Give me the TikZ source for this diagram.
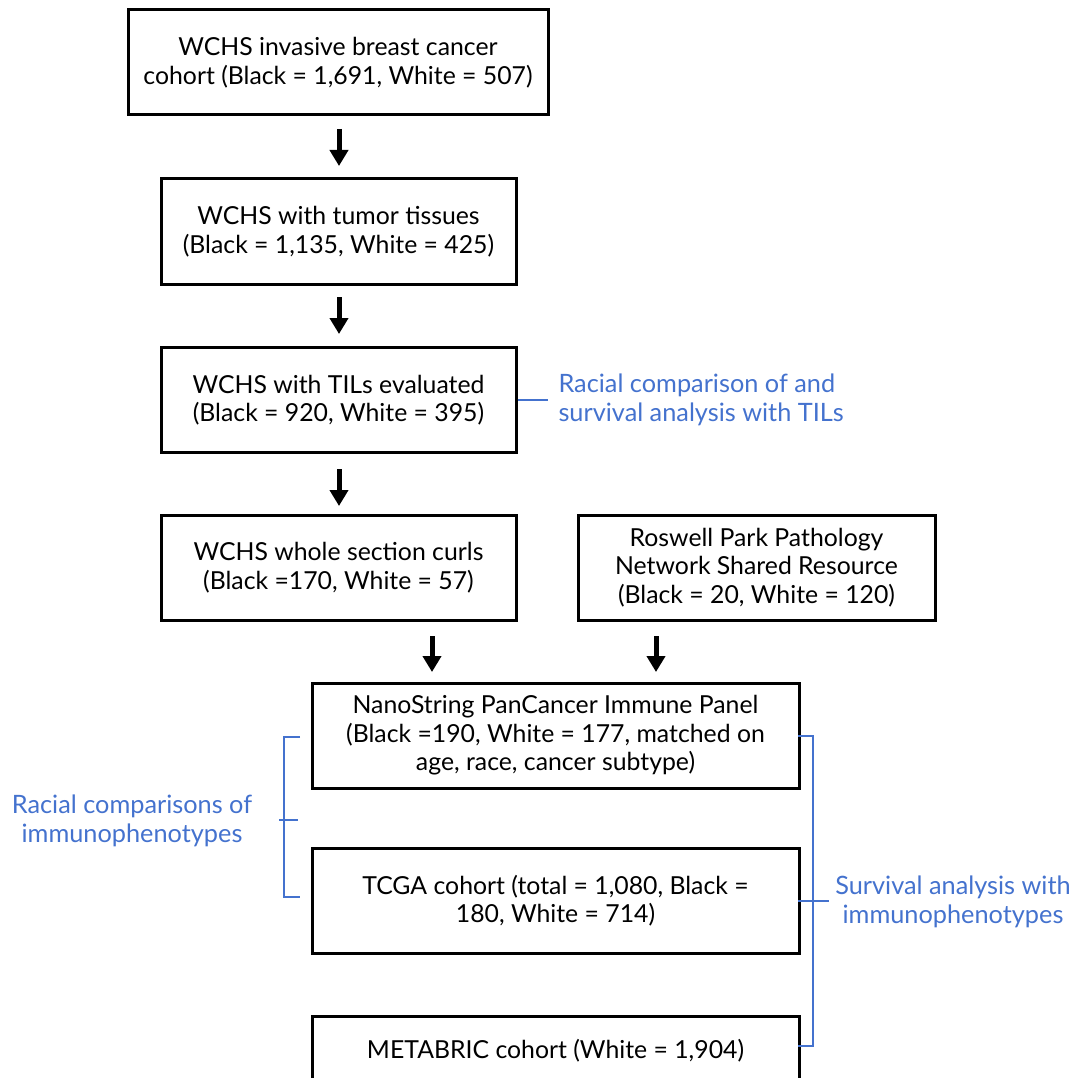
\documentclass[tikz,border=0pt]{standalone}
\usepackage{fontspec}
\setmainfont{Lato}
\usetikzlibrary{arrows.meta}
\definecolor{bracketblue}{RGB}{68,114,206}
\begin{document}
\begin{tikzpicture}[x=1pt,y=-1pt,
  box/.style={draw=black,line width=3pt,align=center,inner sep=0pt,font=\fontsize{24.8}{28.5}\selectfont},
  arr/.style={line width=5pt,-{Triangle[width=18pt,length=16pt]}},
  brk/.style={draw=bracketblue,line width=2.4pt},
  blab/.style={text=bracketblue,align=center,font=\fontsize{25.3}{29.5}\selectfont}]
\useasboundingbox (0,0) rectangle (1072,1078);
\begin{scope}
\clip (0,0) rectangle (1072,1078);
\node[box,minimum width=420pt,minimum height=105pt] (b1) at (338,62.5) {WCHS invasive breast cancer\\cohort (Black = 1,691, White = 507)};
\node[box,minimum width=355pt,minimum height=105pt] (b2) at (338.5,231.5) {WCHS with tumor tissues\\(Black = 1,135, White = 425)};
\node[box,minimum width=355pt,minimum height=105pt] (b3) at (338.5,400) {WCHS with TILs evaluated\\(Black = 920, White = 395)};
\node[box,minimum width=355pt,minimum height=105pt] (b4) at (338.5,567.5) {WCHS whole section curls\\(Black =170, White = 57)};
\node[box,minimum width=357pt,minimum height=105pt] (b5) at (756.5,567.5) {Roswell Park Pathology\\Network Shared Resource\\(Black = 20, White = 120)};
\node[box,minimum width=487pt,minimum height=105pt] (b6) at (555.5,735.5) {NanoString PanCancer Immune Panel\\(Black =190, White = 177, matched on\\age, race, cancer subtype)};
\node[box,minimum width=487pt,minimum height=105pt] (b7) at (555.5,900.5) {TCGA cohort (total = 1,080, Black =\\180, White = 714)};
\node[box,minimum width=487pt,minimum height=100pt] (b8) at (555.5,1066) {};
\node[font=\fontsize{24.8}{28}\selectfont] (t8) at (555.5,1051) {METABRIC cohort (White = 1,904)};
\end{scope}
% arrows
\coordinate (a1s) at (339,129); \coordinate (a1e) at (339,166);
\draw[arr] (a1s) -- (a1e);
\coordinate (a2s) at (339,297); \coordinate (a2e) at (339,334);
\draw[arr] (a2s) -- (a2e);
\coordinate (a3s) at (339,469); \coordinate (a3e) at (339,506);
\draw[arr] (a3s) -- (a3e);
\coordinate (a4s) at (432,636); \coordinate (a4e) at (432,672);
\draw[arr] (a4s) -- (a4e);
\coordinate (a5s) at (656,636); \coordinate (a5e) at (656,672);
\draw[arr] (a5s) -- (a5e);
% TILs label
\draw[brk] (b3.east) -- ++(30,0) coordinate (c3);
\node[blab,align=left,anchor=west] (l3) at (555,400) {Racial comparison of and\\survival analysis with TILs};
% left bracket
\draw[brk] (300,737) -- (284,737) -- (284,897) -- (300,897);
\draw[brk] (279,820) coordinate (lt) -- (298,820);
\node[blab] (l1) at (132,821) {Racial comparisons of\\immunophenotypes};
% right bracket
\draw[brk] (798,736) -- (813,736) -- (813,1046) -- (798,1046);
\draw[brk] (798,901) -- (829,901);
\node[blab] (l2) at (953,902) {Survival analysis with\\immunophenotypes};
\end{tikzpicture}
\end{document}
